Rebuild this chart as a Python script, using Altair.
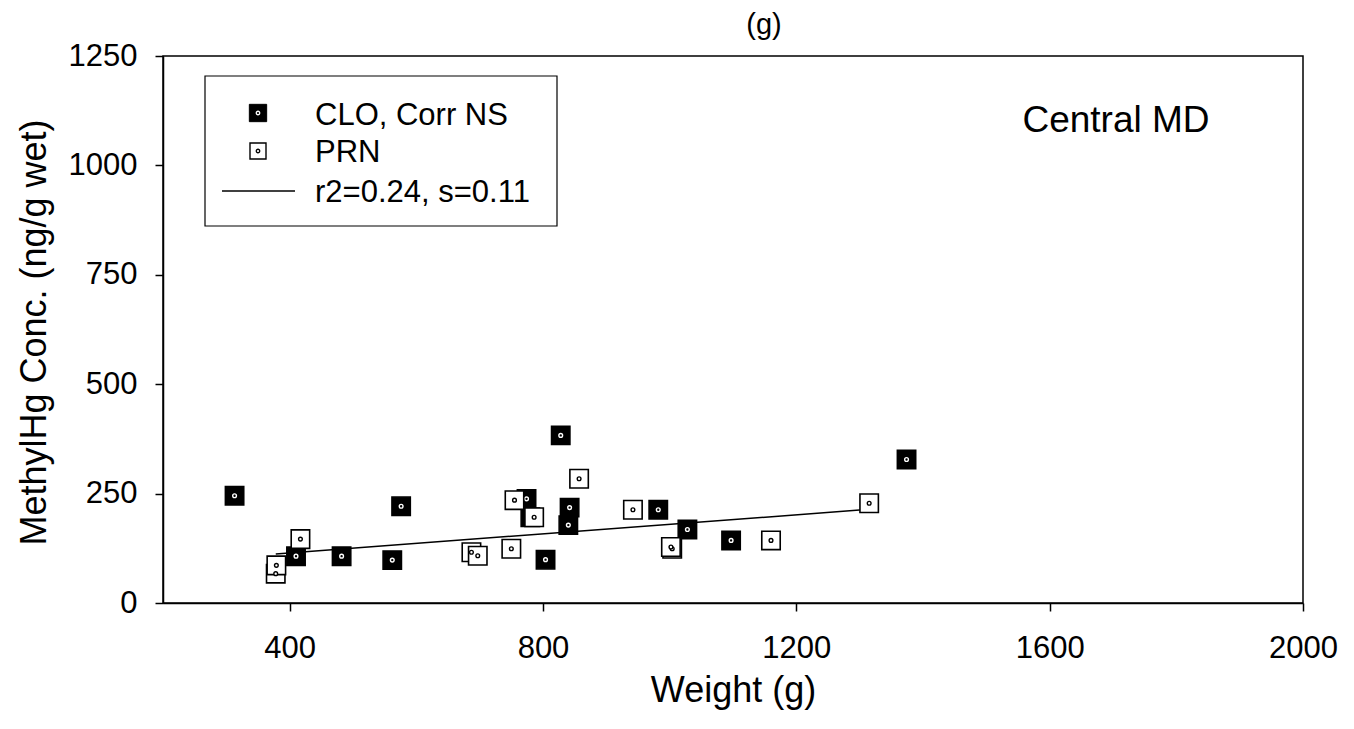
import altair as alt
import pandas as pd

# ---- data ----
clo_weight = [313, 410, 482, 562, 576, 774, 780, 828, 842, 840, 804, 982, 1028, 1097, 1374]
clo_conc = [245, 107, 107, 98, 221, 238, 196, 383, 218, 178, 99, 213, 168, 143, 328]
prn_weight = [378, 379, 417, 687, 697, 750, 755, 786, 857, 942, 1004, 1002, 1160, 1315]
prn_conc = [67, 86, 146, 116, 108, 124, 235, 196, 284, 213, 124, 128, 143, 228]
fit_weight = [378, 1315]
fit_conc = [112, 214]
x_ticks = [400, 800, 1200, 1600, 2000]
y_ticks = [0, 250, 500, 750, 1000, 1250]
legend_labels = ["CLO, Corr NS", "PRN", "r2=0.24, s=0.11"]
panel_label = "Central MD"
top_label = "(g)"

FONT = "Liberation Sans"

clo = pd.DataFrame({"w": clo_weight, "c": clo_conc})
prn = pd.DataFrame({"w": prn_weight, "c": prn_conc})
fit = pd.DataFrame({"w": fit_weight, "c": fit_conc})

xscale = alt.Scale(domain=[200, 2000], nice=False, zero=False)
yscale = alt.Scale(domain=[0, 1250], nice=False)

xaxis = alt.Axis(values=x_ticks, title="Weight (g)", grid=False, format="d",
                 domainColor="black", domainWidth=1.5, tickColor="black", tickWidth=1.5,
                 tickSize=8, labelFont=FONT, labelFontSize=31, labelColor="black",
                 labelPadding=22, labelFlush=False, labelOverlap=False,
                 titleFont=FONT, titleFontSize=36, titleFontWeight="normal", titleColor="black",
                 titleBaseline="alphabetic", titleY=98, titleX=570)
yaxis = alt.Axis(values=y_ticks, title="MethylHg Conc. (ng/g wet)", grid=False, format="d",
                 domainColor="black", domainWidth=1.5, tickColor="black", tickWidth=1.5,
                 tickSize=8, labelFont=FONT, labelFontSize=31, labelColor="black",
                 labelPadding=18, labelFlush=False, labelOverlap=False,
                 titleFont=FONT, titleFontSize=36, titleFontWeight="normal", titleColor="black",
                 titleAngle=-90, titleAlign="center", titleBaseline="alphabetic",
                 titleX=-118, titleY=276)

X = alt.X("w:Q", scale=xscale, axis=xaxis)
Y = alt.Y("c:Q", scale=yscale, axis=yaxis)

line = alt.Chart(fit).mark_line(color="black", strokeWidth=1.5).encode(x=X, y=Y)

clo_sq = alt.Chart(clo).mark_point(shape="square", size=340, filled=True, fill="black",
                                   stroke="black", strokeWidth=1.5, opacity=1).encode(x=X, y=Y)
clo_dot = alt.Chart(clo).mark_point(shape="circle", size=14, fill="black", filled=True,
                                    stroke="white", strokeWidth=1.4, opacity=1).encode(x=X, y=Y)
prn_sq = alt.Chart(prn).mark_point(shape="square", size=340, filled=True, fill="white",
                                   stroke="black", strokeWidth=1.6, opacity=1).encode(x=X, y=Y)
prn_dot = alt.Chart(prn).mark_point(shape="circle", size=14, fill="white", filled=True,
                                    stroke="black", strokeWidth=1.4, opacity=1).encode(x=X, y=Y)

one = alt.Data(values=[{}])

# legend box (drawn as annotation)
leg_box = alt.Chart(one).mark_rect(fill="white", stroke="black", strokeWidth=1.2).encode(
    x=alt.value(42), x2=alt.value(394), y=alt.value(20), y2=alt.value(170))
leg_sq1 = alt.Chart(one).mark_point(shape="square", size=300, filled=True, fill="black",
                                    stroke="black", strokeWidth=1, opacity=1).encode(
    x=alt.value(95), y=alt.value(57))
leg_dot1 = alt.Chart(one).mark_point(shape="circle", size=12, filled=True, fill="black",
                                     stroke="white", strokeWidth=1.3, opacity=1).encode(
    x=alt.value(95), y=alt.value(57))
leg_sq2 = alt.Chart(one).mark_point(shape="square", size=256, filled=True, fill="white",
                                    stroke="black", strokeWidth=1.4, opacity=1).encode(
    x=alt.value(95), y=alt.value(95))
leg_dot2 = alt.Chart(one).mark_point(shape="circle", size=12, filled=True, fill="white",
                                     stroke="black", strokeWidth=1.3, opacity=1).encode(
    x=alt.value(95), y=alt.value(95))
leg_line = alt.Chart(one).mark_rule(color="black", strokeWidth=1.5).encode(
    x=alt.value(59), x2=alt.value(132), y=alt.value(135))

def txt(label, x, y, size, align="left", baseline="alphabetic"):
    return alt.Chart(one).mark_text(font=FONT, fontSize=size, color="black", align=align,
                                    baseline=baseline).encode(
        x=alt.value(x), y=alt.value(y), text=alt.value(label))

leg_t1 = txt(legend_labels[0], 152, 69, 31)
leg_t2 = txt(legend_labels[1], 152, 106, 31)
leg_t3 = txt(legend_labels[2], 152, 146, 31)
panel = txt(panel_label, 953, 76, 37, align="center")
top = txt(top_label, 601, -22, 29, align="center")

chart = alt.layer(
    line, clo_sq, clo_dot, prn_sq, prn_dot,
    leg_box, leg_sq1, leg_dot1, leg_sq2, leg_dot2, leg_line, leg_t1, leg_t2, leg_t3,
    panel, top,
).properties(
    width=1140, height=547,
    autosize=alt.AutoSizeParams(type="none"),
    padding={"left": 163, "top": 56, "right": 51, "bottom": 126},
).configure(
    background="white",
    view=alt.ViewConfig(stroke="black", strokeWidth=1.5),
)

chart.save("out.html", embed_options={"renderer": "svg", "actions": False})
